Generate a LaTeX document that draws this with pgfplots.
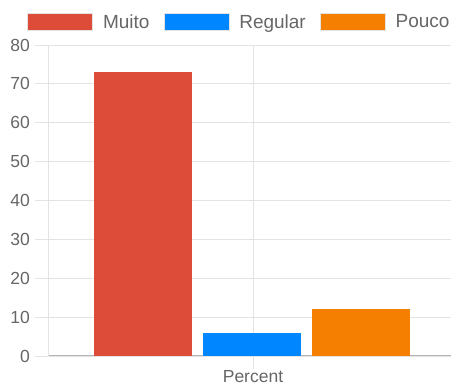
\documentclass[border=0pt]{standalone}
\usepackage{pgfplots}
\pgfplotsset{compat=1.18}
\usepackage{fontspec}
\setmainfont{Liberation Sans}
\definecolor{cMuito}{HTML}{DD4B39}
\definecolor{cReg}{HTML}{0086FF}
\definecolor{cPouco}{HTML}{F57F00}
\definecolor{txt}{HTML}{666666}
\definecolor{gridc}{HTML}{E3E3E3}
\definecolor{axc}{HTML}{B5B5B5}
\begin{document}
\begin{tikzpicture}[x=1pt,y=1pt]
\useasboundingbox (0,0) rectangle (451,385);
\begin{axis}[
  at={(48pt,29pt)}, anchor=south west,
  scale only axis, width=403pt, height=311pt,
  xmin=48, xmax=451, ymin=0, ymax=80,
  ytick={0,10,...,80}, xtick={253}, xticklabels={Percent},
  axis x line=bottom, axis y line=left, axis line style={-},
  x axis line style={draw=axc, line width=1pt},
  y axis line style={draw=gridc, line width=0.8pt},
  ymajorgrids, xmajorgrids, grid style={gridc, line width=0.8pt},
  tick style={gridc, line width=0.8pt},
  tick align=outside,
  major tick length=13pt,
  ticklabel style={font=\fontsize{17.5}{19}\selectfont, text=txt},
  yticklabel style={inner xsep=1pt, xshift=-4pt},
  xticklabel style={inner ysep=1pt},
  /pgf/number format/assume math mode=true,
  legend style={at={(axis description cs:-0.052,1.103)}, anchor=north west,
    legend columns=3, draw=none, fill=none, inner sep=0pt,
    font=\fontsize{19}{21}\selectfont, text=txt,
    nodes={inner sep=0pt},
    /tikz/every odd column/.append style={column sep=10pt},
    /tikz/every even column/.append style={column sep=14pt}},
  legend image code/.code={\draw[#1, draw=gridc, line width=0.8pt] (0pt,-8.5pt) rectangle (65pt,8.5pt);},
]
\addplot[ybar, bar width=98, bar shift=0pt, fill=cMuito, draw=none] coordinates {(143,73)};
\addlegendentry{Muito}
\addplot[ybar, bar width=98, bar shift=0pt, fill=cReg, draw=none] coordinates {(252,6)};
\addlegendentry{Regular}
\addplot[ybar, bar width=98, bar shift=0pt, fill=cPouco, draw=none] coordinates {(361,12)};
\addlegendentry{Pouco}
\end{axis}
\end{tikzpicture}
\end{document}
